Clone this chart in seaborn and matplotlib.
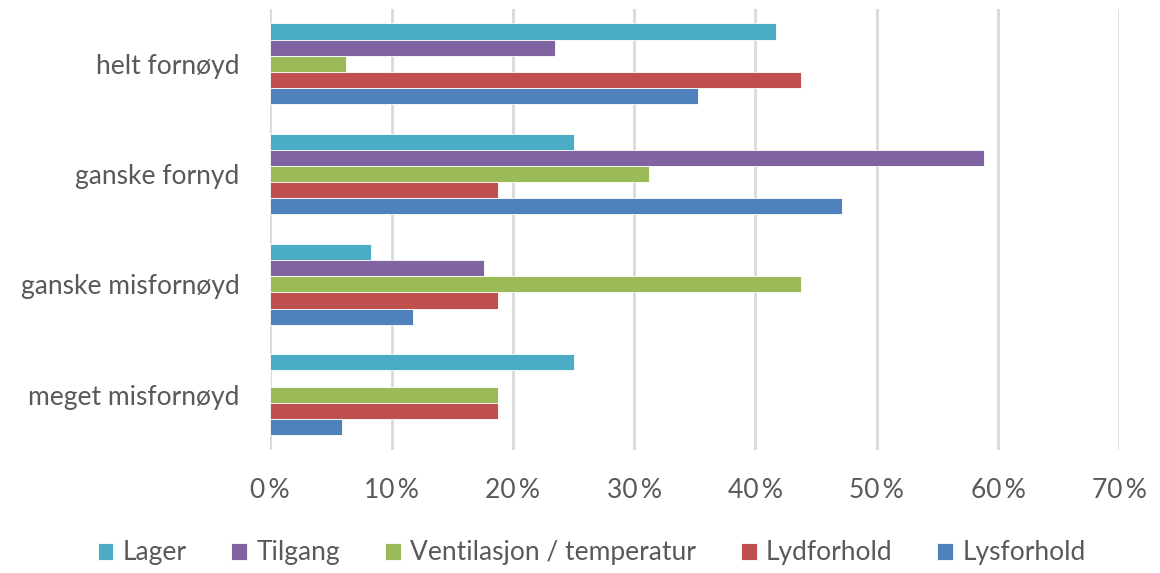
import matplotlib
matplotlib.use("Agg")
import matplotlib.pyplot as plt
import matplotlib.ticker as mticker
import pandas as pd
import seaborn as sns

# data (percent)
categories = ["helt fornøyd", "ganske fornyd", "ganske misfornøyd", "meget misfornøyd"]
series = ["Lager", "Tilgang", "Ventilasjon / temperatur", "Lydforhold", "Lysforhold"]
lager = [41.7, 25.0, 8.3, 25.0]
tilgang = [23.5, 58.8, 17.6, 0.0]
ventilasjon = [6.25, 31.25, 43.75, 18.75]
lydforhold = [43.75, 18.75, 18.75, 18.75]
lysforhold = [35.3, 47.1, 11.8, 5.9]

colors = ["#4BACC6", "#8064A2", "#9BBB59", "#C0504D", "#4F81BD"]

rows = []
for name, vals in zip(series, [lager, tilgang, ventilasjon, lydforhold, lysforhold]):
    for cat, v in zip(categories, vals):
        rows.append({"kategori": cat, "serie": name, "verdi": v})
df = pd.DataFrame(rows)

sns.set_style("white")
plt.rcParams["font.family"] = ["Lato", "DejaVu Sans"]
text_col = "#595959"

fig, ax = plt.subplots(figsize=(11.6, 5.73), dpi=100)
fig.subplots_adjust(left=0.233, right=0.965, top=0.985, bottom=0.215)

sns.barplot(data=df, x="verdi", y="kategori", hue="serie", order=categories,
            hue_order=series, palette=colors, orient="h", width=0.73, gap=0,
            edgecolor="white", linewidth=0.6, saturation=1, ax=ax)

ax.set_xlim(0, 70)
ax.xaxis.set_major_locator(mticker.MultipleLocator(10))
ax.xaxis.set_major_formatter(mticker.FuncFormatter(lambda v, p: f"{v:.0f}\u2009%"))
ax.grid(axis="x", color="#D9D9D9", linewidth=2)
ax.set_axisbelow(True)
for s in ax.spines.values():
    s.set_visible(False)
ax.set_xlabel("")
ax.set_ylabel("")
ax.tick_params(axis="both", length=0, labelsize=19, colors=text_col)
ax.tick_params(axis="y", pad=22)
ax.tick_params(axis="x", pad=20)

handles, labels = ax.get_legend_handles_labels()
ax.legend_.remove()
fig.legend(handles, labels, loc="center", bbox_to_anchor=(0.51, 0.035),
           ncol=5, frameon=False, fontsize=19, handlelength=0.6, handleheight=0.6,
           columnspacing=1.7, handletextpad=0.35, labelcolor=text_col)

fig.savefig("out.png", dpi=100)
